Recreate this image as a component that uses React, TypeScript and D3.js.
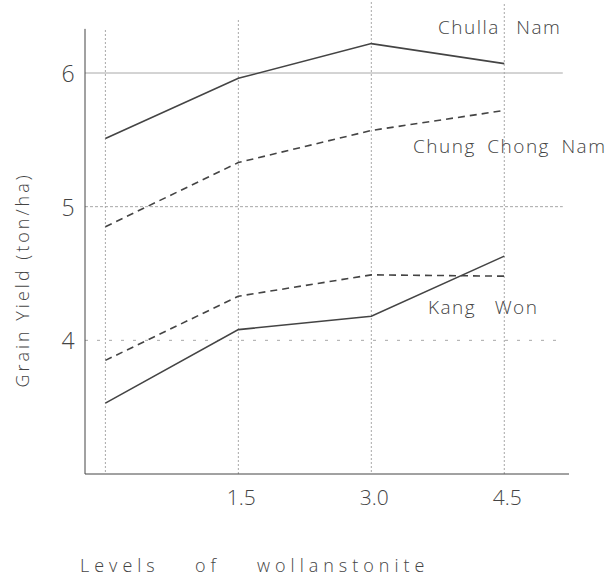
import React from "react";
import * as d3 from "d3";

// Wollastonite application levels (x) and grain yield per province (ton/ha)
const levels = [0, 1.5, 3.0, 4.5];
const chullaNam = [5.51, 5.96, 6.22, 6.07];
const chungChongNam = [4.85, 5.33, 5.57, 5.72];
const kangWonDashed = [3.85, 4.33, 4.49, 4.48];
const kangWonSolid = [3.53, 4.08, 4.18, 4.63];

const xTickValues = [1.5, 3.0, 4.5];
const xTickLabels = ["1.5", "3.0", "4.5"];
const yTickValues = [4, 5, 6];

const W = 611;
const H = 581;

const x = d3.scaleLinear().domain([-0.23, 5.23]).range([85, 569]);
const y = d3.scaleLinear().domain([3, 6]).range([474, 73]);

const ink = "#444";
const gridInk = "#a8a8a8";
const font = "'Open Sans', 'DejaVu Sans', sans-serif";

type Series = { values: number[]; dashed: boolean };
const series: Series[] = [
  { values: chullaNam, dashed: false },
  { values: chungChongNam, dashed: true },
  { values: kangWonDashed, dashed: true },
  { values: kangWonSolid, dashed: false },
];

const line = d3
  .line<[number, number]>()
  .x((d) => x(d[0]))
  .y((d) => y(d[1]));

export default function App() {
  const yTop = y(6.33);
  const yBottom = y(3);
  const xLeft = x(-0.23);
  const xRight = x(5.23);
  const gridRight = x(5.16);

  return (
    <svg
      width={W}
      height={H}
      viewBox={`0 0 ${W} ${H}`}
      style={{ position: "absolute", left: 0, top: 0, background: "#fff" }}
    >
      {/* horizontal grid */}
      {yTickValues.map((v) => (
        <line
          key={`h${v}`}
          x1={xLeft}
          x2={gridRight}
          y1={y(v)}
          y2={y(v)}
          stroke={gridInk}
          strokeWidth={1}
          strokeDasharray={v === 6 ? undefined : v === 5 ? "3,2" : "3,9"}
        />
      ))}
      {/* vertical grid */}
      {levels.map((v, i) => (
        <line
          key={`v${v}`}
          x1={x(v)}
          x2={x(v)}
          y1={[30, 20, 2, 4][i]}
          y2={yBottom}
          stroke={gridInk}
          strokeWidth={1}
          strokeDasharray="2,2"
        />
      ))}
      {/* axes */}
      <line x1={xLeft} x2={xLeft} y1={yTop} y2={yBottom} stroke={ink} strokeWidth={1} />
      <line x1={xLeft} x2={xRight} y1={yBottom} y2={yBottom} stroke={ink} strokeWidth={1} />

      {/* series */}
      {series.map((s, i) => (
        <path
          key={i}
          d={line(levels.map((lv, j) => [lv, s.values[j]] as [number, number])) || ""}
          fill="none"
          stroke={ink}
          strokeWidth={1.6}
          strokeDasharray={s.dashed ? "7,5" : undefined}
        />
      ))}

      {/* y tick labels */}
      {yTickValues.map((v) => (
        <text
          key={`yt${v}`}
          x={68}
          y={y(v) + 9}
          textAnchor="middle"
          fontFamily={font}
          fontWeight={300}
          fontSize={23}
          fill={ink}
        >
          {v}
        </text>
      ))}
      {/* x tick labels */}
      {xTickValues.map((v, i) => (
        <text
          key={`xt${v}`}
          x={x(v) + 3}
          y={505}
          textAnchor="middle"
          fontFamily={font}
          fontWeight={300}
          fontSize={21}
          fill={ink}
        >
          {xTickLabels[i]}
        </text>
      ))}

      {/* series labels */}
      <text x={438} y={34} fontFamily={font} fontWeight={300} fontSize={19} letterSpacing={1.5} wordSpacing={10} fill={ink}>
        Chulla Nam
      </text>
      <text x={413} y={153} fontFamily={font} fontWeight={300} fontSize={19} letterSpacing={1.5} wordSpacing={5} fill={ink}>
        Chung Chong Nam
      </text>
      <text x={428} y={314} fontFamily={font} fontWeight={300} fontSize={19} letterSpacing={1.5} wordSpacing={12} fill={ink}>
        Kang Won
      </text>

      {/* axis titles */}
      <text
        transform="translate(29,280) rotate(-90)"
        textAnchor="middle"
        fontFamily={font}
        fontWeight={300}
        fontSize={18}
        letterSpacing={3}
        fill={ink}
      >
        Grain Yield (ton/ha)
      </text>
      <text y={572} fontFamily={font} fontWeight={300} fontSize={18} letterSpacing={5} fill={ink}>
        <tspan x={80}>Levels</tspan>
        <tspan x={195}>of</tspan>
        <tspan x={257}>wollanstonite</tspan>
      </text>
    </svg>
  );
}
